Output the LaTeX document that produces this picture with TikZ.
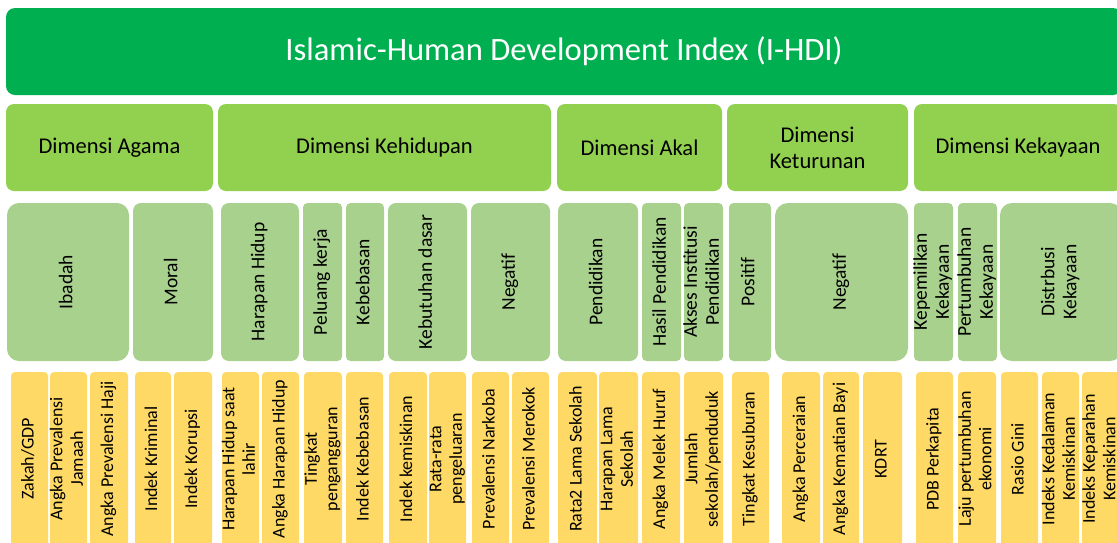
\documentclass[tikz,border=0pt]{standalone}
\usepackage{fontspec}
\setmainfont{Carlito}
\usepackage{graphicx}
\usepackage{tikz}
\usetikzlibrary{positioning}

\definecolor{ihdigreen}{HTML}{00B050}
\definecolor{dimgreen}{HTML}{92D050}
\definecolor{subgreen}{HTML}{A9D18E}
\definecolor{indyellow}{HTML}{FFD966}

\newcommand{\uptext}[1]{\makebox[0pt]{\rotatebox{90}{\begin{tabular}{@{}c@{}}#1\end{tabular}}}}

\begin{document}
\begin{tikzpicture}[x=1pt, y=-1pt,
    every node/.style={inner sep=0pt, outer sep=0pt},
    titlebox/.style={fill=ihdigreen, text=white, rounded corners=9pt, minimum height=87pt,
        font=\fontsize{32.6}{39}\selectfont},
    dimbox/.style={fill=dimgreen, rounded corners=8pt, minimum height=87pt, align=center,
        font=\fontsize{22.5}{26}\selectfont},
    subbox/.style={fill=subgreen, rounded corners=4.5pt, minimum height=158pt,
        font=\fontsize{19.5}{22}\selectfont},
    indbox/.style={fill=indyellow, rounded corners=4pt, minimum height=174pt,
        font=\fontsize{18}{20.5}\selectfont}]

                \useasboundingbox (0,0) rectangle (1117,542);
                \clip (0,0) rectangle (1117,542);

                \node[titlebox, minimum width=1116pt, anchor=north west] (ihdi) at (6,8) {Islamic-Human Development Index (I-HDI)};

                \node[dimbox, minimum width=207pt, anchor=north west] (dim_0) at (6,104) {Dimensi Agama};
                \node[dimbox, minimum width=333pt] (dim_1) [right = 5pt of dim_0] {Dimensi Kehidupan};
                \node[dimbox, minimum width=165pt] (dim_2) [right = 6pt of dim_1] {Dimensi Akal};
                \node[dimbox, minimum width=181pt] (dim_3) [right = 5pt of dim_2] {Dimensi\\Keturunan};
                \node[dimbox, minimum width=208pt] (dim_4) [right = 6pt of dim_3] {Dimensi Kekayaan};

                \node[subbox, minimum width=122pt, rounded corners=12pt, anchor=north west] (sub_0) at (7,203) {\uptext{Ibadah}};
                \node[subbox, minimum width=80pt, rounded corners=8pt] (sub_1) [right = 4pt of sub_0] {\uptext{Moral}};
                \node[subbox, minimum width=78pt, rounded corners=8pt] (sub_2) [right = 8pt of sub_1] {\uptext{Harapan Hidup}};
                \node[subbox, minimum width=39pt] (sub_3) [right = 4pt of sub_2] {\uptext{Peluang kerja}};
                \node[subbox, minimum width=38pt] (sub_4) [right = 4pt of sub_3] {\uptext{Kebebasan}};
                \node[subbox, minimum width=79pt, rounded corners=8pt] (sub_5) [right = 4pt of sub_4] {\uptext{Kebutuhan dasar}};
                \node[subbox, minimum width=79pt, rounded corners=8pt] (sub_6) [right = 4pt of sub_5] {\uptext{Negatif}};
                \node[subbox, minimum width=80pt, rounded corners=8pt] (sub_7) [right = 8pt of sub_6] {\uptext{Pendidikan}};
                \node[subbox, minimum width=39pt] (sub_8) [right = 4pt of sub_7] {\uptext{Hasil Pendidikan}};
                \node[subbox, minimum width=39pt] (sub_9) [right = 3pt of sub_8] {\uptext{Akses Institusi\\Pendidikan}};
                \node[subbox, minimum width=42pt] (sub_10) [right = 6pt of sub_9] {\uptext{Positif}};
                \node[subbox, minimum width=133pt, rounded corners=13pt] (sub_11) [right = 4pt of sub_10] {\uptext{Negatif}};
                \node[subbox, minimum width=39pt] (sub_12) [right = 6pt of sub_11] {\uptext{Kepemilikan\\Kekayaan}};
                \node[subbox, minimum width=39pt] (sub_13) [right = 5pt of sub_12] {\uptext{Pertumbuhan\\Kekayaan}};
                \node[subbox, minimum width=122pt, rounded corners=12pt] (sub_14) [right = 3pt of sub_13] {\uptext{Distrbusi\\Kekayaan}};

                \node[indbox, minimum width=37pt, anchor=north west] (ind_0) at (11,372) {\uptext{Zakah/GDP}};
                \node[indbox, minimum width=37pt] (ind_1) [right = 2pt of ind_0] {\uptext{Angka Prevalensi\\Jamaah}};
                \node[indbox, minimum width=38pt] (ind_2) [right = 3pt of ind_1] {\uptext{Angka Prevalensi Haji}};
                \node[indbox, minimum width=36pt] (ind_3) [right = 7pt of ind_2] {\uptext{Indek Kriminal}};
                \node[indbox, minimum width=38pt] (ind_4) [right = 3pt of ind_3] {\uptext{Indek Korupsi}};
                \node[indbox, minimum width=37pt] (ind_5) [right = 10pt of ind_4] {\uptext{Harapan Hidup saat\\lahir}};
                \node[indbox, minimum width=37pt] (ind_6) [right = 3pt of ind_5] {\uptext{Angka Harapan Hidup}};
                \node[indbox, minimum width=38pt] (ind_7) [right = 5pt of ind_6] {\uptext{Tingkat\\pengangguran}};
                \node[indbox, minimum width=37pt] (ind_8) [right = 4pt of ind_7] {\uptext{Indek Kebebasan}};
                \node[indbox, minimum width=38pt] (ind_9) [right = 6pt of ind_8] {\uptext{Indek kemiskinan}};
                \node[indbox, minimum width=37pt] (ind_10) [right = 2pt of ind_9] {\uptext{Rata-rata\\pengeluaran}};
                \node[indbox, minimum width=37pt] (ind_11) [right = 6pt of ind_10] {\uptext{Prevalensi Narkoba}};
                \node[indbox, minimum width=37pt] (ind_12) [right = 3pt of ind_11] {\uptext{Prevalensi Merokok}};
                \node[indbox, minimum width=39pt] (ind_13) [right = 9pt of ind_12] {\uptext{Rata2 Lama Sekolah}};
                \node[indbox, minimum width=39pt] (ind_14) [right = 2pt of ind_13] {\uptext{Harapan Lama\\Sekolah}};
                \node[indbox, minimum width=38pt] (ind_15) [right = 4pt of ind_14] {\uptext{Angka Melek Huruf}};
                \node[indbox, minimum width=39pt] (ind_16) [right = 4pt of ind_15] {\uptext{Jumlah\\sekolah/penduduk}};
                \node[indbox, minimum width=37pt] (ind_17) [right = 9pt of ind_16] {\uptext{Tingkat Kesuburan}};
                \node[indbox, minimum width=38pt] (ind_18) [right = 13pt of ind_17] {\uptext{Angka Perceraian}};
                \node[indbox, minimum width=36pt] (ind_19) [right = 3pt of ind_18] {\uptext{Angka Kematian Bayi}};
                \node[indbox, minimum width=39pt] (ind_20) [right = 4pt of ind_19] {\uptext{KDRT}};
                \node[indbox, minimum width=37pt] (ind_21) [right = 14pt of ind_20] {\uptext{PDB Perkapita}};
                \node[indbox, minimum width=38pt] (ind_22) [right = 5pt of ind_21] {\uptext{Laju pertumbuhan\\ekonomi}};
                \node[indbox, minimum width=37pt] (ind_23) [right = 5pt of ind_22] {\uptext{Rasio Gini}};
                \node[indbox, minimum width=37pt] (ind_24) [right = 4pt of ind_23] {\uptext{Indeks Kedalaman\\Kemiskinan}};
                \node[indbox, minimum width=38pt] (ind_25) [right = 3pt of ind_24] {\uptext{Indeks Keparahan\\Kemiskinan}};

\end{tikzpicture}
\end{document}
